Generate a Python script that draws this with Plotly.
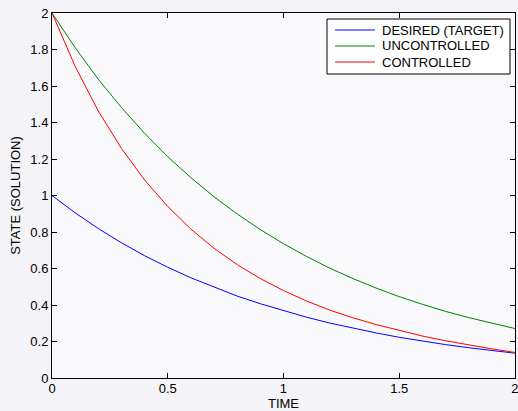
import plotly.graph_objects as go

time = [0.0, 0.1, 0.2, 0.3, 0.4, 0.5, 0.6, 0.7, 0.8, 0.9, 1.0,
        1.1, 1.2, 1.3, 1.4, 1.5, 1.6, 1.7, 1.8, 1.9, 2.0]
desired = [1.000, 0.905, 0.819, 0.741, 0.670, 0.607, 0.549, 0.497, 0.449, 0.407, 0.368,
           0.333, 0.301, 0.273, 0.247, 0.223, 0.202, 0.183, 0.166, 0.150, 0.136]
uncontrolled = [2.000, 1.810, 1.637, 1.482, 1.341, 1.213, 1.098, 0.993, 0.899, 0.813, 0.736,
                0.666, 0.602, 0.545, 0.493, 0.446, 0.404, 0.365, 0.331, 0.299, 0.271]
controlled = [2.000, 1.708, 1.463, 1.258, 1.085, 0.940, 0.816, 0.711, 0.621, 0.545, 0.479,
              0.422, 0.372, 0.330, 0.293, 0.260, 0.230, 0.204, 0.181, 0.160, 0.140]

series_names = ["DESIRED (TARGET)", "UNCONTROLLED", "CONTROLLED"]
series_colors = ["#0000ff", "#008000", "#ff0000"]

x_ticks = [0, 0.5, 1, 1.5, 2]
x_labels = ["0", "0.5", "1", "1.5", "2"]
y_ticks = [0, 0.2, 0.4, 0.6, 0.8, 1.0, 1.2, 1.4, 1.6, 1.8, 2.0]
y_labels = ["0", "0.2", "0.4", "0.6", "0.8", "1", "1.2", "1.4", "1.6", "1.8", "2"]

font = "Liberation Sans, Arial, sans-serif"

W, H = 518, 411
ML, MR, MT, MB = 52, 3, 13, 33
PW, PH = W - ML - MR, H - MT - MB


def px_x(p):
    return (p - ML) / PW


def px_y(p):
    return (H - MB - p) / PH


fig = go.Figure()
for ys, name, col in zip([desired, uncontrolled, controlled], series_names, series_colors):
    fig.add_trace(go.Scatter(x=time, y=ys, mode="lines", name=name,
                             line=dict(color=col, width=1), showlegend=False))

# legend drawn as box + sample lines + text
shapes = [dict(type="rect", xref="paper", yref="paper",
               x0=px_x(327), x1=px_x(510), y0=px_y(74), y1=px_y(19),
               line=dict(color="black", width=1), fillcolor="white", layer="above")]
annotations = []
for i, (name, col) in enumerate(zip(series_names, series_colors)):
    yy = 30 + 16 * i
    shapes.append(dict(type="line", xref="paper", yref="paper",
                       x0=px_x(335), x1=px_x(375), y0=px_y(yy), y1=px_y(yy),
                       line=dict(color=col, width=1), layer="above"))
    annotations.append(dict(xref="paper", yref="paper", x=px_x(380), y=px_y(yy),
                            text=name, showarrow=False, xanchor="left", yanchor="middle",
                            font=dict(family=font, size=13, color="black")))

axis_common = dict(showline=True, linecolor="black", linewidth=1, mirror="allticks",
                   ticks="inside", ticklen=5, tickcolor="black", showgrid=False,
                   zeroline=False, automargin=False, ticklabeloverflow="allow",
                   tickfont=dict(family=font, size=13, color="black"))

fig.update_layout(
    width=W, height=H,
    margin=dict(l=ML, r=MR, t=MT, b=MB),
    paper_bgcolor="#f3f3f8",
    plot_bgcolor="#f9f9fc",
    font=dict(family=font, size=13, color="black"),
    showlegend=False,
    shapes=shapes,
    annotations=annotations,
    xaxis=dict(range=[0, 2.0004], tickvals=x_ticks, ticktext=x_labels,
               ticklabelstandoff=-2,
               title=dict(text="TIME", standoff=6, font=dict(family=font, size=13)),
               **axis_common),
    yaxis=dict(range=[0, 2], tickvals=y_ticks, ticktext=y_labels,
               title=dict(text="STATE (SOLUTION)", standoff=6, font=dict(family=font, size=13)),
               **axis_common),
)

fig.write_html("out.html")
